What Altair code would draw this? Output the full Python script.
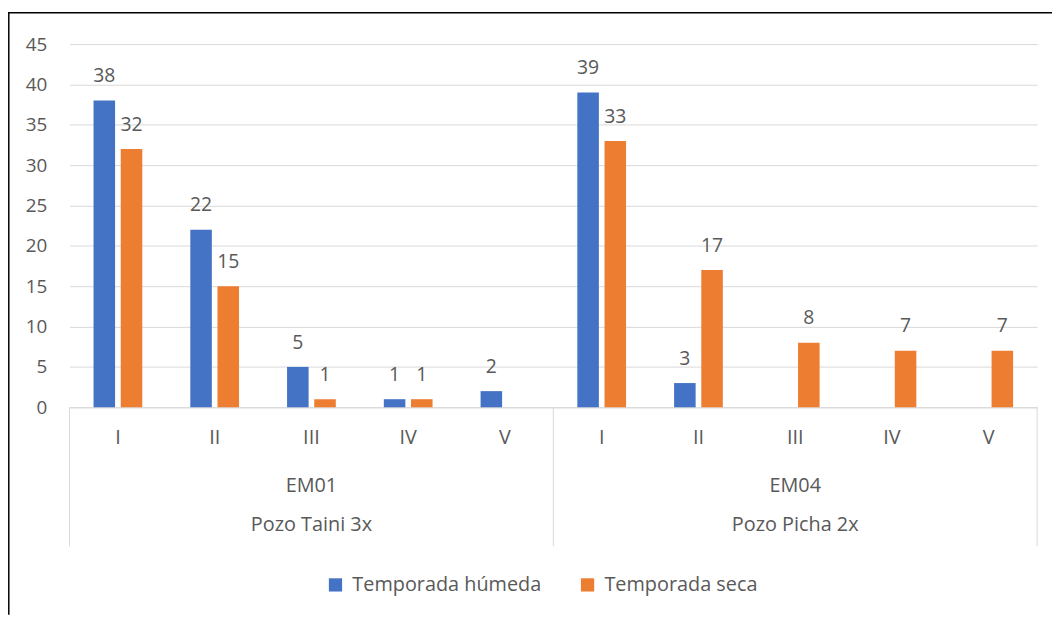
import altair as alt
import pandas as pd

# ---- data ----
groups = ["EM01", "EM04"]
wells = ["Pozo Taini 3x", "Pozo Picha 2x"]
strata = ["I", "II", "III", "IV", "V"]
series = ["Temporada húmeda", "Temporada seca"]
humeda = [38, 22, 5, 1, 2, 39, 3, None, None, None]
seca = [32, 15, 1, 1, None, 33, 17, 8, 7, 7]
colors = ["#4472C4", "#ED7D31"]

FONT = "Open Sans"
TXT = "#595959"
GRID = "#D9D9D9"

keys = [f"{g}|{s}" for g in groups for s in strata]
rows = []
for i, k in enumerate(keys):
    for sname, vals in zip(series, [humeda, seca]):
        v = vals[i]
        if v is not None:
            rows.append({"key": k, "series": sname, "value": v})
df = pd.DataFrame(rows)

grp_df = pd.DataFrame({"key": [f"{g}|III" for g in groups], "grp": groups, "well": wells})
sep_left = pd.DataFrame({"key": [f"{g}|I" for g in groups]})
sep_right = pd.DataFrame({"key": [f"{groups[-1]}|V"]})
one = pd.DataFrame({"k": [0]})

xscale = alt.Scale(domain=keys, paddingInner=0, paddingOuter=0)
xaxis = alt.Axis(
    title=None, labelExpr="split(datum.label, '|')[1]", labelAngle=0,
    ticks=False, domainColor=GRID, labelFont=FONT, labelFontSize=20,
    labelColor=TXT, labelBaseline="middle", labelPadding=31, grid=False,
)

def X(**kw):
    return alt.X("key:N", sort=keys, scale=xscale, axis=xaxis, **kw)

yenc = alt.Y(
    "value:Q",
    scale=alt.Scale(domain=[0, 45], nice=False),
    axis=alt.Axis(values=list(range(0, 50, 5)), title=None, domain=False,
                  ticks=False, gridColor=GRID, labelFont=FONT, labelFontSize=19,
                  labelColor=TXT, labelPadding=23),
)
xoff = alt.XOffset("series:N", scale=alt.Scale(domain=series, paddingInner=0.208, paddingOuter=0.883))

bars = alt.Chart(df).mark_bar().encode(
    x=X(), xOffset=xoff, y=yenc,
    color=alt.Color("series:N", scale=alt.Scale(domain=series, range=colors),
                    legend=alt.Legend(orient="none", legendX=258, legendY=535,
                                      direction="horizontal", title=None,
                                      symbolType="square", symbolSize=178,
                                      symbolStrokeWidth=0, labelFont=FONT,
                                      labelFontSize=20, labelColor=TXT, labelLimit=0,
                                      labelOffset=7, columnPadding=36, padding=0)),
)

labels = alt.Chart(df).mark_text(dy=-18.5, baseline="alphabetic", font=FONT,
                                 fontSize=19.5, color=TXT).encode(
    x=X(), xOffset=xoff, y="value:Q", text="value:Q",
)

grp_text = alt.Chart(grp_df).mark_text(baseline="middle", font=FONT, fontSize=20,
                                       color=TXT).encode(
    x=X(), y=alt.value(445), text="grp:N")
well_text = alt.Chart(grp_df).mark_text(baseline="middle", font=FONT, fontSize=20,
                                        color=TXT).encode(
    x=X(), y=alt.value(484.5), text="well:N")

rule_l = alt.Chart(sep_left).mark_rule(color=GRID, strokeWidth=1).encode(
    x=X(bandPosition=0), y=alt.value(366), y2=alt.value(506))
rule_r = alt.Chart(sep_right).mark_rule(color=GRID, strokeWidth=1).encode(
    x=X(bandPosition=1), y=alt.value(366), y2=alt.value(506))

border_top = alt.Chart(one).mark_rule(color="black", strokeWidth=1.5).encode(
    x=alt.value(-62), x2=alt.value(990), y=alt.value(-31.5))
border_left = alt.Chart(one).mark_rule(color="black", strokeWidth=1.5).encode(
    x=alt.value(-61.2), y=alt.value(-32), y2=alt.value(575))

chart = alt.layer(
    bars, labels, grp_text, well_text, rule_l, rule_r, border_top, border_left
).properties(
    width=975, height=366,
    autosize=alt.AutoSizeParams(type="none"),
    padding={"left": 62, "top": 34, "right": 15, "bottom": 209},
    background="white",
).configure_view(stroke=None)

chart.save("out.html", embed_options={"renderer": "svg", "actions": False})
